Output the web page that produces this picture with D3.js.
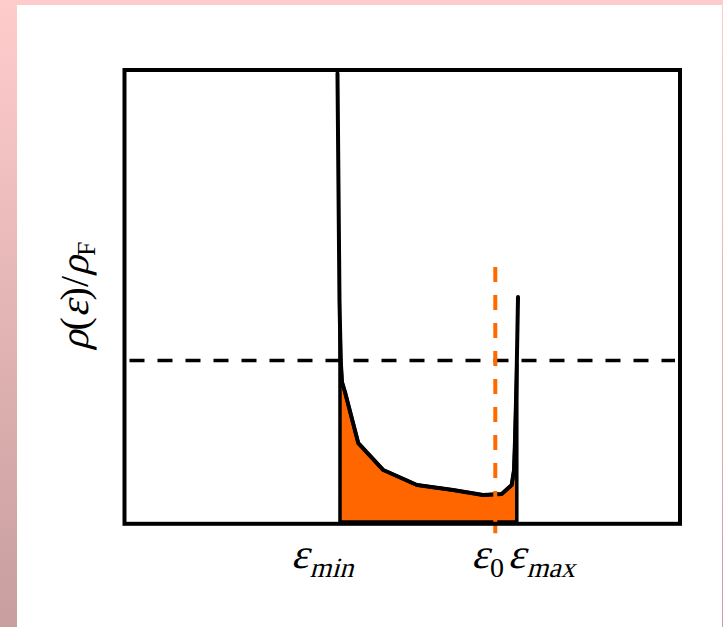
<!DOCTYPE html>
<html><head><meta charset="utf-8">
<script src="https://cdn.jsdelivr.net/npm/d3@7"></script>
<style>body{margin:0;padding:0;overflow:hidden;background:#fff}svg{display:block}</style>
</head><body>
<script>
// Density of states curve (energy in arbitrary units, rho relative to rho_F)
const eps = [3.834, 3.870, 3.892, 3.915, 3.969, 4.209, 4.659, 5.266, 5.914, 6.454, 6.790, 6.970, 7.012, 7.030, 7.057, 7.084];
const rho = [2.78, 1.375, 1.004, 0.867, 0.805, 0.488, 0.322, 0.229, 0.198, 0.167, 0.173, 0.229, 0.322, 0.508, 0.880, 1.394];
const epsMin = 3.879, eps0 = 6.675, epsMax = 7.062;
const rhoF = 1.0;
const e0Line = [-0.07, 1.58];       // extent of the ε0 marker (rho units)
const refLine = [0.09, 9.91];       // extent of the rho_F reference (eps units)
const tickVals = [epsMin, eps0, epsMax];
const tickNames = [["ε","min"], ["ε","0"], ["ε","max"]];

const W = 723, H = 627;
const FONT = "'Liberation Serif','Times New Roman',serif";
const svg = d3.select("body").append("svg").attr("width", W).attr("height", H);
const defs = svg.append("defs");
const g = defs.append("linearGradient").attr("id","bg").attr("x1",0).attr("y1",0).attr("x2",0).attr("y2",1);
g.append("stop").attr("offset","0").attr("stop-color","#ffcccc");
g.append("stop").attr("offset","1").attr("stop-color","#c89e9e");
svg.append("rect").attr("width",W).attr("height",H).attr("fill","url(#bg)");
svg.append("rect").attr("x",17).attr("y",5).attr("width",705).attr("height",622).attr("fill","#fff");

const x = d3.scaleLinear().domain([0,10]).range([124.5,680]);
const y = d3.scaleLinear().domain([0,2.8]).range([522,70]);

const pts = eps.map((e,i)=>({e, r: rho[i]}));
const interp = v => {
  for (let i=0;i<pts.length-1;i++){
    const a=pts[i], b=pts[i+1];
    if (v>=Math.min(a.e,b.e) && v<=Math.max(a.e,b.e)) {
      const t = (v-a.e)/(b.e-a.e); return a.r + t*(b.r-a.r);
    }
  }
  return 0;
};
const fillPts = [{e:epsMin, r:interp(epsMin)}]
  .concat(pts.filter(p=>p.e>epsMin && p.e<epsMax))
  .concat([{e:epsMax, r:interp(epsMax)}]);

const area = d3.area().x(d=>x(d.e)).y0(y(0)).y1(d=>y(d.r));
svg.append("path").datum(fillPts).attr("d", area)
  .attr("fill","#ff6600").attr("stroke","#000").attr("stroke-width",3.5).attr("stroke-linejoin","round");

// reference line rho = rho_F
svg.append("line").attr("x1",x(refLine[0])).attr("x2",x(refLine[1]))
  .attr("y1",y(rhoF)).attr("y2",y(rhoF))
  .attr("stroke","#000").attr("stroke-width",3.5).attr("stroke-dasharray","15,13");

// curve
const line = d3.line().x(d=>x(d.e)).y(d=>y(d.r));
svg.append("path").datum(pts).attr("d", line).attr("fill","none")
  .attr("stroke","#000").attr("stroke-width",4).attr("stroke-linejoin","round").attr("stroke-linecap","round");

// eps0 marker
svg.append("line").attr("x1",x(eps0)).attr("x2",x(eps0))
  .attr("y1",y(e0Line[1])).attr("y2",y(e0Line[0]))
  .attr("stroke","#ff6a00").attr("stroke-width",4).attr("stroke-dasharray","15,13");

// frame
svg.append("rect").attr("x",x.range()[0]).attr("y",y.range()[1])
  .attr("width",x.range()[1]-x.range()[0]).attr("height",523.8-y.range()[1])
  .attr("fill","none").attr("stroke","#000").attr("stroke-width",4);

// rich text helper: sequence of runs, italic runs drawn with a slant
function rich(parent, parts, anchorMiddle) {
  const outer = parent.append("g");
  const inner = outer.append("g");
  let cx = 0;
  parts.forEach(p => {
    const t = inner.append("text").attr("font-family", FONT).attr("font-size", p.size)
      .attr("fill","#000").text(p.t);
    const w = t.node().getComputedTextLength();
    t.attr("transform", `translate(${cx},${p.dy||0})` + (p.it ? " skewX(-15)" : ""));
    cx += w + (p.gap||0);
  });
  if (anchorMiddle) inner.attr("transform", `translate(${-cx/2},0)`);
  return outer;
}

// tick labels
const dxs = [-49, -24, -9];
tickVals.forEach((v,i)=>{
  rich(svg, [
    {t: tickNames[i][0], it: true, size: 42, gap: 1},
    {t: tickNames[i][1], it: i!==1, size: 28, dy: 9}
  ]).attr("transform", `translate(${x(v)+dxs[i]},568)`);
});

// y label
rich(svg, [
  {t:"ρ", it:true, size:40},
  {t:"(", size:40},
  {t:"ε", it:true, size:40},
  {t:")/", size:40},
  {t:"ρ", it:true, size:40},
  {t:"F", size:26, dy:7}
], true).attr("transform","translate(88,296) rotate(-90)");
</script>
</body></html>
